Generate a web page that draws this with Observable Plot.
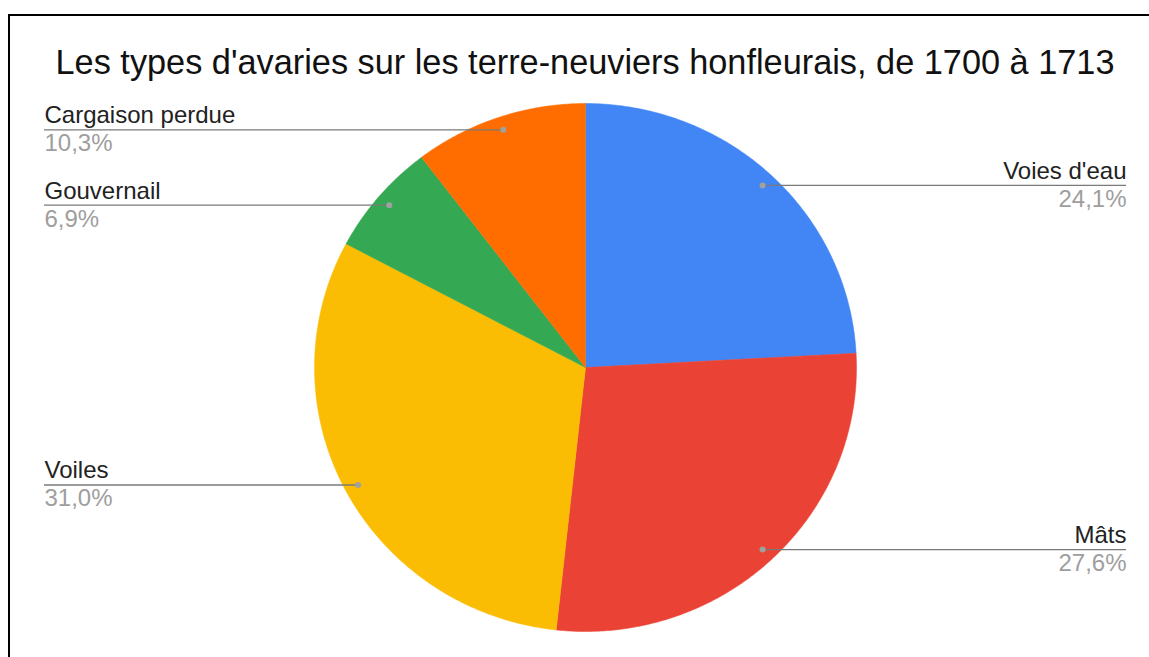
<!DOCTYPE html>
<html>
<head>
<meta charset="utf-8">
<script src="https://cdn.jsdelivr.net/npm/d3@7"></script>
<script src="https://cdn.jsdelivr.net/npm/@observablehq/plot@0.6"></script>
<style>
  body { margin: 0; background: #fff; font-family: "Liberation Sans", Arial, sans-serif; }
  #wrap { position: relative; width: 1149px; height: 657px; overflow: hidden; background: #fff; }
  #chart { position: absolute; left: 0; top: 0; }
  #border { position: absolute; left: 8px; top: 14px; width: 1300px; height: 800px;
            border-top: 2px solid #000; border-left: 2px solid #000; }
  #title { position: absolute; left: 0; top: 43px; width: 1170px; text-align: center;
           font-size: 34.3px; color: #111; line-height: normal; white-space: nowrap; }
</style>
</head>
<body>
<div id="wrap">
  <div id="chart"></div>
  <div id="border"></div>
  <div id="title">Les types d'avaries sur les terre-neuviers honfleurais, de 1700 à 1713</div>
</div>
<script>
const categories = ["Voies d'eau", "Mâts", "Voiles", "Gouvernail", "Cargaison perdue"];
const counts = [7, 8, 9, 2, 3];
const colors = ["#4285F4", "#EA4335", "#FBBC04", "#34A853", "#FF6D01"];

const rows = categories.map((name, i) => ({name, count: counts[i]}));
const total = d3.sum(counts);
const arcs = d3.pie().sort(null).value(d => d.count)(rows);

// slice polygons (unit circle, angle clockwise from 12 o'clock)
const slicePts = arcs.flatMap(a => {
  const name = a.data.name;
  const n = Math.max(2, Math.ceil((a.endAngle - a.startAngle) / (Math.PI / 360)));
  const pts = [{name, x: 0, y: 0}];
  for (let i = 0; i <= n; i++) {
    const t = a.startAngle + (a.endAngle - a.startAngle) * i / n;
    pts.push({name, x: Math.sin(t), y: Math.cos(t)});
  }
  pts.push({name, x: 0, y: 0});
  return pts;
});

const W = 1149, H = 657;
const mL = 44, mR = 23, mT = 103, mB = 26;
const cx = 585, rx = 271;
const xEdgeL = (cx - mL) / rx, xEdgeR = (W - mR - cx) / rx;

const labels = arcs.map(a => {
  const mid = (a.startAngle + a.endAngle) / 2;
  const pct = (a.data.count / total * 100).toFixed(1).replace(".", ",") + "%";
  return {
    name: a.data.name, pct,
    px: 0.95 * Math.sin(mid), py: 0.95 * Math.cos(mid),
    side: Math.sin(mid) > 0 ? 1 : -1
  };
});
const leftL = labels.filter(d => d.side < 0);
const rightL = labels.filter(d => d.side > 0);

const fs = 24;
const plot = Plot.plot({
  width: W, height: H,
  marginLeft: mL, marginRight: mR, marginTop: mT, marginBottom: mB,
  style: {fontFamily: "'Liberation Sans', Arial, sans-serif", background: "transparent"},
  x: {axis: null, domain: [-xEdgeL, xEdgeR]},
  y: {axis: null, domain: [-1, 1]},
  color: {domain: categories, range: colors},
  marks: [
    Plot.line(slicePts, {x: "x", y: "y", z: "name", fill: "name", stroke: "name", strokeWidth: 0.5}),
    Plot.ruleY(labels, {y: "py", x1: d => d.side > 0 ? d.px : -xEdgeL, x2: d => d.side > 0 ? xEdgeR : d.px,
      stroke: "#7a7a7a", strokeWidth: 1.3}),
    Plot.dot(labels, {x: "px", y: "py", r: 3, fill: "#a0a0a0", stroke: null}),
    Plot.text(leftL, {y: "py", text: "name", frameAnchor: "left", textAnchor: "start", lineAnchor: "bottom",
      dy: -6.5, fontSize: fs, fill: "#222"}),
    Plot.text(leftL, {y: "py", text: "pct", frameAnchor: "left", textAnchor: "start", lineAnchor: "bottom",
      dy: 21.5, fontSize: fs, fill: "#9e9e9e"}),
    Plot.text(rightL, {y: "py", text: "name", frameAnchor: "right", textAnchor: "end", lineAnchor: "bottom",
      dy: -6.5, fontSize: fs, fill: "#222"}),
    Plot.text(rightL, {y: "py", text: "pct", frameAnchor: "right", textAnchor: "end", lineAnchor: "bottom",
      dy: 21.5, fontSize: fs, fill: "#9e9e9e"})
  ]
});
document.getElementById("chart").appendChild(plot);
</script>
</body>
</html>
